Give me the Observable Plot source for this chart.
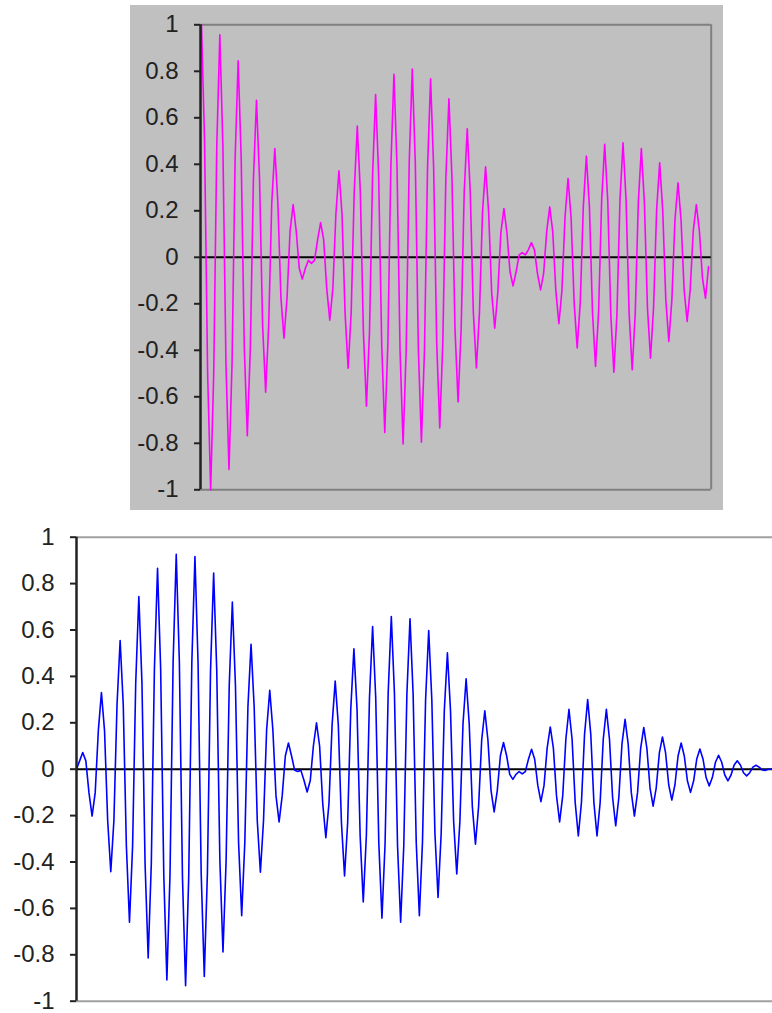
<!DOCTYPE html>
<html><head><meta charset="utf-8">
<script src="https://cdn.jsdelivr.net/npm/d3@7"></script>
<script src="https://cdn.jsdelivr.net/npm/@observablehq/plot@0.6"></script>
<style>
body{margin:0;background:#fff;width:772px;height:1013px;position:relative;overflow:hidden;font-family:"Liberation Sans",Arial,sans-serif}
#top{position:absolute;left:130px;top:5px}
#bot{position:absolute;left:0;top:520px}
svg{display:block}
</style></head><body>
<div id="top"></div><div id="bot"></div>
<script>
const yTicks = [1, 0.8, 0.6, 0.4, 0.2, 0, -0.2, -0.4, -0.6, -0.8, -1];
const yTickLabels = ["1","0.8","0.6","0.4","0.2","0","-0.2","-0.4","-0.6","-0.8","-1"];

// top panel (magenta) samples
const magentaSeries = [
1, 0.5, -0.5,
-1, -0.5, 0.479,
0.957, 0.479, -0.457,
-0.913, -0.457, 0.423,
0.845, 0.423, -0.384,
-0.767, -0.384, 0.338,
0.675, 0.338, -0.29,
-0.58, -0.29, 0.234,
0.468, 0.234, -0.174,
-0.348, -0.174, 0.114,
0.227, 0.114, -0.047,
-0.094, -0.047, -0.013,
-0.026, -0.013, 0.075,
0.149, 0.075, -0.135,
-0.27, -0.135, 0.186,
0.372, 0.186, -0.239,
-0.477, -0.239, 0.282,
0.564, 0.282, -0.32,
-0.64, -0.32, 0.35,
0.7, 0.35, -0.377,
-0.753, -0.377, 0.394,
0.787, 0.394, -0.402,
-0.803, -0.402, 0.405,
0.81, 0.405, -0.398,
-0.795, -0.398, 0.384,
0.768, 0.384, -0.367,
-0.734, -0.367, 0.341,
0.682, 0.341, -0.311,
-0.622, -0.311, 0.277,
0.553, 0.277, -0.238,
-0.476, -0.238, 0.195,
0.389, 0.195, -0.153,
-0.305, -0.153, 0.105,
0.21, 0.105, -0.062,
-0.123, -0.062, 0.01,
0.02, 0.01, 0.032,
0.063, 0.032, -0.07,
-0.14, -0.07, 0.109,
0.217, 0.109, -0.143,
-0.286, -0.143, 0.17,
0.339, 0.17, -0.195,
-0.39, -0.195, 0.218,
0.435, 0.218, -0.235,
-0.469, -0.235, 0.243,
0.486, 0.243, -0.247,
-0.494, -0.247, 0.246,
0.492, 0.246, -0.242,
-0.484, -0.242, 0.234,
0.468, 0.234, -0.217,
-0.434, -0.217, 0.203,
0.406, 0.203, -0.181,
-0.362, -0.181, 0.16,
0.32, 0.16, -0.138,
-0.276, -0.138, 0.114,
0.227, 0.114, -0.088,
-0.176, -0.04
];

// bottom panel (blue) samples
const blueSeries = [
0, 0.036,
0.072, 0.036, -0.101,
-0.202, -0.101, 0.165,
0.33, 0.165, -0.221,
-0.442, -0.221, 0.278,
0.555, 0.278, -0.33,
-0.66, -0.33, 0.372,
0.744, 0.372, -0.407,
-0.814, -0.407, 0.433,
0.866, 0.433, -0.454,
-0.908, -0.454, 0.463,
0.926, 0.463, -0.467,
-0.933, -0.467, 0.459,
0.917, 0.459, -0.447,
-0.893, -0.447, 0.423,
0.846, 0.423, -0.394,
-0.788, -0.394, 0.36,
0.72, 0.36, -0.316,
-0.631, -0.316, 0.269,
0.538, 0.269, -0.222,
-0.444, -0.222, 0.17,
0.34, 0.17, -0.114,
-0.227, -0.114, 0.057,
0.113, 0.057, -0.005,
-0.01, -0.005, -0.049,
-0.098, -0.049, 0.1,
0.2, 0.1, -0.148,
-0.295, -0.148, 0.19,
0.38, 0.19, -0.23,
-0.46, -0.23, 0.26,
0.519, 0.26, -0.286,
-0.572, -0.286, 0.308,
0.615, 0.308, -0.321,
-0.642, -0.321, 0.329,
0.658, 0.329, -0.33,
-0.66, -0.33, 0.324,
0.648, 0.324, -0.316,
-0.632, -0.316, 0.299,
0.598, 0.299, -0.277,
-0.553, -0.277, 0.251,
0.502, 0.251, -0.226,
-0.452, -0.226, 0.195,
0.39, 0.195, -0.162,
-0.323, -0.162, 0.126,
0.252, 0.126, -0.092,
-0.184, -0.092, 0.058,
0.115, 0.058, -0.022,
-0.044, -0.022, -0.01,
-0.02, -0.01, 0.043,
0.086, 0.043, -0.07,
-0.14, -0.07, 0.091,
0.182, 0.091, -0.114,
-0.227, -0.114, 0.129,
0.258, 0.129, -0.144,
-0.288, -0.144, 0.15,
0.3, 0.15, -0.144,
-0.288, -0.144, 0.129,
0.258, 0.129, -0.122,
-0.244, -0.122, 0.108,
0.215, 0.108, -0.101,
-0.202, -0.101, 0.09,
0.18, 0.09, -0.08,
-0.159, -0.08, 0.07,
0.139, 0.07, -0.067,
-0.133, -0.067, 0.057,
0.113, 0.057, -0.05,
-0.1, -0.05, 0.044,
0.087, 0.044, -0.036,
-0.072, -0.036, 0.03,
0.06, 0.03, -0.025,
-0.05, -0.025, 0.018,
0.036, 0.018, -0.015,
-0.029, -0.015, 0.009,
0.017, 0.009, -0.003,
-0.005, 0, 0
];

const fmt = d => yTickLabels[yTicks.indexOf(d)];

function panel({values, color, width, height, mt, mb, ml, mr, xDomain, bg, borderColor, rightBorder}) {
  const data = values.map((v, i) => ({t: i, v}));
  const marks = [
    Plot.ruleY([1, -1], {stroke: borderColor, strokeWidth: 2}),
  ];
  if (rightBorder) marks.push(Plot.ruleX([xDomain[1]], {stroke: borderColor, strokeWidth: 2}));
  marks.push(
    Plot.ruleY([0], {stroke: "#000", strokeWidth: 2}),
    Plot.line(data, {x: "t", y: "v", stroke: color, strokeWidth: 1.6}),
    Plot.ruleX([xDomain[0]], {stroke: "#222", strokeWidth: 2.5}),
    Plot.axisY({ticks: yTicks, tickFormat: fmt, tickSize: 6, tickPadding: 16, fontSize: 24, color: "#222", strokeWidth: 2, label: null})
  );
  return Plot.plot({
    width, height,
    marginTop: mt, marginBottom: mb, marginLeft: ml, marginRight: mr,
    style: {background: bg, fontFamily: '"Liberation Sans", Arial, sans-serif', overflow: "visible"},
    x: {domain: xDomain, axis: null},
    y: {domain: [-1, 1], axis: null},
    marks
  });
}

document.getElementById("top").appendChild(panel({
  values: magentaSeries, color: "#ff00ff",
  width: 593, height: 505, mt: 19.3, mb: 20.7, ml: 70, mr: 12.3,
  xDomain: [-0.33, 166.87], bg: "#c0c0c0", borderColor: "#808080", rightBorder: true
}));
document.getElementById("bot").appendChild(panel({
  values: blueSeries, color: "#0000ff",
  width: 772, height: 493, mt: 16.7, mb: 12.3, ml: 76, mr: 0,
  xDomain: [0, 223.3], bg: "#ffffff", borderColor: "#a0a0a0", rightBorder: false
}));
</script>
</body></html>
